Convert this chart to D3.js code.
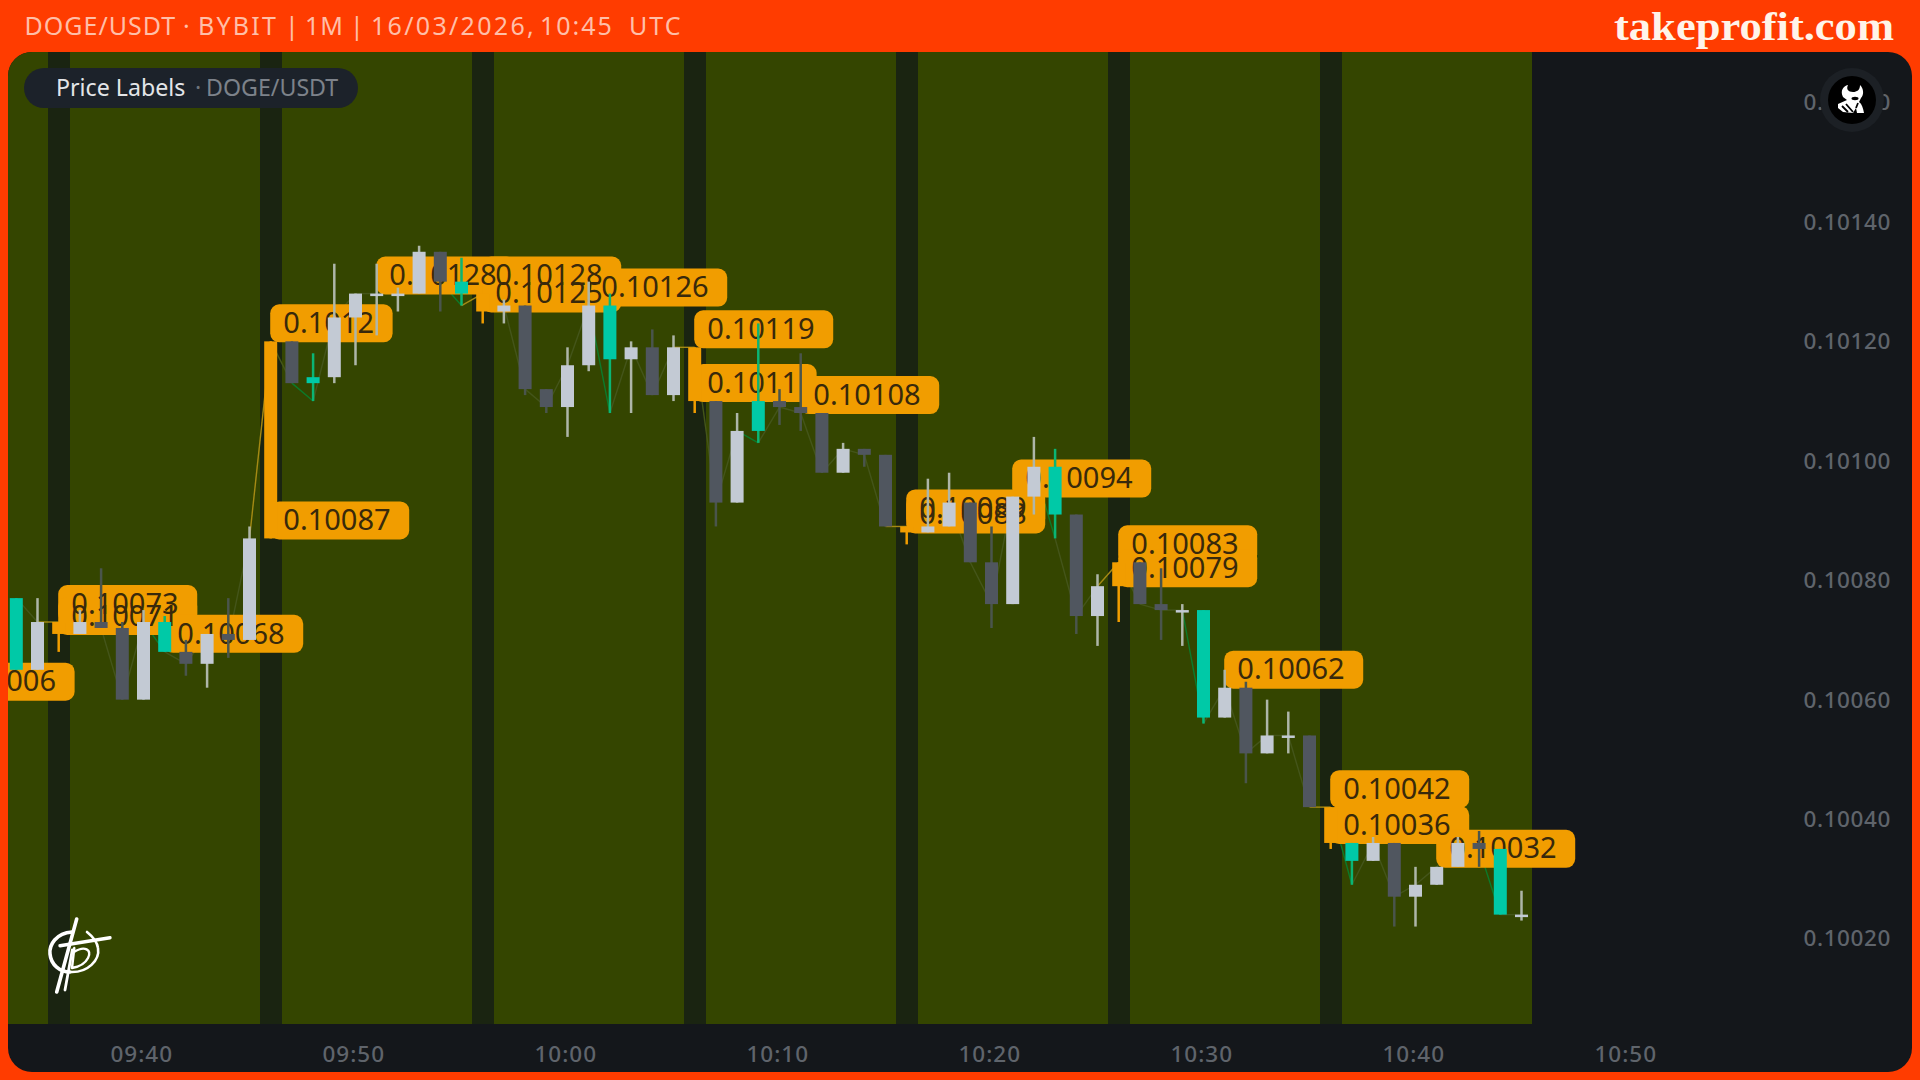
<!DOCTYPE html>
<html><head><meta charset="utf-8"><style>
html,body{margin:0;padding:0;background:#ff3c00;overflow:hidden}
svg{display:block}
</style><script src="https://cdn.jsdelivr.net/npm/d3@7"></script></head><body><svg id="c" width="1920" height="1080"></svg><script>
const titleParts=["DOGE/USDT","·","BYBIT","|","1M","|","16/03/2026,","10:45","UTC"];
const brand="takeprofit.com";
const seriesName="Price Labels";
const seriesSymbol="DOGE/USDT";
const priceTicks=[0.1002,0.1004,0.1006,0.1008,0.1010,0.1012,0.1014,0.1016];
const candleStart="2026-03-16T09:34:00Z";
const candleKinds="t w o w d d w t d w d w o d t w w w w w d t o w d d w w t w d w o d w t d d d w d d o w w d d w w t d w o d d w t w d w w d o t w d w w w d t w".split(" ");
const opens=[0.10077,0.10065,0.10071,0.10071,0.10073,0.10072,0.10060,0.10073,0.10068,0.10066,0.10071,0.10070,0.10087,0.10120,0.10114,0.10114,0.10124,0.10128,0.10128,0.10128,0.10135,0.10130,0.10125,0.10125,0.10126,0.10112,0.10109,0.10116,0.10126,0.10117,0.10119,0.10111,0.10110,0.10110,0.10093,0.10110,0.10110,0.10109,0.10108,0.10098,0.10102,0.10101,0.10088,0.10088,0.10089,0.10093,0.10083,0.10076,0.10094,0.10099,0.10091,0.10074,0.10079,0.10083,0.10076,0.10075,0.10075,0.10057,0.10062,0.10051,0.10054,0.10054,0.10036,0.10036,0.10033,0.10036,0.10027,0.10029,0.10032,0.10036,0.10035,0.10024];
const closes=[0.10065,0.10073,0.10073,0.10073,0.10072,0.10060,0.10073,0.10068,0.10066,0.10071,0.10070,0.10087,0.10120,0.10113,0.10113,0.10124,0.10128,0.10128,0.10128,0.10135,0.10130,0.10128,0.10128,0.10126,0.10112,0.10109,0.10116,0.10126,0.10117,0.10119,0.10111,0.10119,0.10119,0.10093,0.10105,0.10105,0.10109,0.10108,0.10098,0.10102,0.10101,0.10089,0.10089,0.10089,0.10093,0.10083,0.10076,0.10094,0.10099,0.10091,0.10074,0.10079,0.10083,0.10076,0.10075,0.10075,0.10057,0.10062,0.10051,0.10054,0.10054,0.10042,0.10042,0.10033,0.10036,0.10027,0.10029,0.10032,0.10036,0.10035,0.10024,0.10024];
const highs=[0.10077,0.10077,0.10073,0.10075,0.10082,0.10073,0.10075,0.10074,0.10070,0.10071,0.10077,0.10089,0.10120,0.10120,0.10118,0.10133,0.10128,0.10133,0.10129,0.10136,0.10135,0.10134,0.10128,0.10127,0.10126,0.10112,0.10119,0.10130,0.10128,0.10120,0.10122,0.10121,0.10119,0.10110,0.10108,0.10123,0.10112,0.10118,0.10108,0.10103,0.10102,0.10101,0.10089,0.10097,0.10098,0.10093,0.10089,0.10094,0.10104,0.10102,0.10091,0.10081,0.10083,0.10083,0.10082,0.10076,0.10075,0.10065,0.10063,0.10060,0.10058,0.10054,0.10042,0.10036,0.10037,0.10036,0.10032,0.10032,0.10037,0.10038,0.10035,0.10028];
const lows=[0.10065,0.10065,0.10068,0.10071,0.10072,0.10060,0.10060,0.10068,0.10064,0.10062,0.10067,0.10070,0.10087,0.10113,0.10110,0.10113,0.10116,0.10121,0.10125,0.10128,0.10125,0.10126,0.10123,0.10123,0.10111,0.10108,0.10104,0.10115,0.10108,0.10108,0.10111,0.10110,0.10108,0.10089,0.10093,0.10103,0.10106,0.10105,0.10098,0.10098,0.10099,0.10089,0.10086,0.10088,0.10089,0.10083,0.10072,0.10076,0.10091,0.10087,0.10071,0.10069,0.10073,0.10076,0.10070,0.10069,0.10056,0.10057,0.10046,0.10051,0.10051,0.10042,0.10035,0.10029,0.10033,0.10022,0.10022,0.10029,0.10032,0.10032,0.10024,0.10023];
const lineValues=[0.10077,0.10073,0.10073,0.10073,0.10072,0.10060,0.10073,0.10068,0.10066,0.10071,0.10070,0.10087,0.10120,0.10113,0.10110,0.10124,0.10128,0.10128,0.10128,0.10135,0.10130,0.10126,0.10128,0.10126,0.10112,0.10109,0.10116,0.10126,0.10108,0.10119,0.10111,0.10119,0.10119,0.10093,0.10105,0.10103,0.10109,0.10108,0.10098,0.10102,0.10101,0.10089,0.10089,0.10089,0.10093,0.10083,0.10076,0.10094,0.10099,0.10087,0.10074,0.10079,0.10083,0.10076,0.10075,0.10075,0.10056,0.10062,0.10051,0.10054,0.10054,0.10042,0.10042,0.10029,0.10036,0.10027,0.10029,0.10032,0.10036,0.10035,0.10024,0.10024];
const labelTimes=["09:31","09:36","09:36","09:41","09:46","09:46","09:51","09:56","09:56","10:01","10:06","10:06","10:11","10:16","10:16","10:21","10:26","10:26","10:31","10:36","10:36","10:41"];
const labelPrices=[0.1006,0.10073,0.10071,0.10068,0.10087,0.1012,0.10128,0.10128,0.10125,0.10126,0.10119,0.1011,0.10108,0.10089,0.10088,0.10094,0.10083,0.10079,0.10062,0.10042,0.10036,0.10032];

const F='"Noto Sans",sans-serif';
const C={bg:"#ff3c00",panel:"#14171b",green:"#344500",stripe:"#1a2411",w:"#c3cad4",d:"#50565f",t:"#00c9a7",o:"#f19d00",
 wickW:"#aeb6a9",wickD:"#4a554c",wickT:"#0ab574",axis:"#5f646b",label:"#f19d00",labelText:"#38290b"};
const parseT=s=>new Date(`2026-03-16T${s}:00Z`);
const t0=new Date(candleStart);
const times=opens.map((_,i)=>d3.utcMinute.offset(t0,i));
const x=d3.scaleUtc().domain([t0,parseT("10:50")]).range([16.3,1627.5]);
const y=d3.scaleLinear().domain([0.1002,0.1016]).range([938.5,102.5]);
const slot=x(d3.utcMinute.offset(t0,1))-x(t0);
const svg=d3.select("#c");
svg.append("rect").attr("width",1920).attr("height",1080).attr("fill",C.bg);
const defs=svg.append("defs");
defs.append("clipPath").attr("id","pc").append("rect").attr("x",8).attr("y",52).attr("width",1904).attr("height",1020).attr("rx",24);
defs.append("clipPath").attr("id","plot").append("rect").attr("x",8).attr("y",52).attr("width",1904).attr("height",972);
const panel=svg.append("g").attr("clip-path","url(#pc)");
panel.append("rect").attr("x",8).attr("y",52).attr("width",1904).attr("height",1020).attr("fill",C.panel);
const plot=panel.append("g").attr("clip-path","url(#plot)");
// session background with one dark slot per ten-minute candle
const lastX=x(times[times.length-1]);
plot.append("rect").attr("x",0).attr("width",Math.round(lastX+slot/2)).attr("y",52).attr("height",972).attr("fill",C.green);
plot.append("g").selectAll("rect").data(times.filter((d,i)=>candleKinds[i]==="o")).join("rect")
 .attr("x",d=>Math.round(x(d)-10.7)).attr("width",22)
 .attr("y",52).attr("height",972).attr("fill",C.stripe);
// thin line
const lineCol=k=>k==="t"?"#0c7a2a":k==="o"?"#a58a14":"#44551a";
plot.append("g").attr("fill","none").attr("stroke-width",1.4).selectAll("line").data(lineValues.slice(1)).join("line")
 .attr("x1",(d,i)=>x(times[i])).attr("y1",(d,i)=>y(lineValues[i]))
 .attr("x2",(d,i)=>x(times[i+1])).attr("y2",d=>y(d))
 .attr("stroke",(d,i)=>lineCol(candleKinds[i+1]));
// labels
const labels=labelPrices.map((p,i)=>({p,t:parseT(labelTimes[i]),s:String(+p.toFixed(5))}));
const lr=plot.append("g"), lt=plot.append("g");
const texts=lt.selectAll("text").data(labels).join("text").text(d=>d.s)
 .attr("x",d=>x(d.t)+12.6).attr("y",d=>y(d.p)-18.5)
 .attr("dy","0.35em").attr("font-family",F).attr("font-size",29).attr("fill",C.labelText);
texts.each(function(d){d.w=this.getComputedTextLength();});
lr.selectAll("rect").data(labels).join("rect")
 .attr("x",d=>x(d.t)-0.5).attr("y",d=>y(d.p)+1-38).attr("height",38)
 .attr("width",d=>d.w+13.1+18.6).attr("rx",9).attr("fill",C.label);
// candles
const cg=plot.append("g");
const idx=d3.range(opens.length);
const wickCol={w:C.wickW,d:C.wickD,t:C.wickT,o:C.o};
cg.selectAll("line.w").data(idx).join("line").attr("class","w")
 .attr("x1",i=>x(times[i])).attr("x2",i=>x(times[i]))
 .attr("y1",i=>y(highs[i])).attr("y2",i=>y(lows[i]))
 .attr("stroke",i=>wickCol[candleKinds[i]]).attr("stroke-width",2.5);
cg.selectAll("rect.b").data(idx).join("rect").attr("class","b")
 .attr("x",i=>x(times[i])-6.5).attr("width",13)
 .attr("y",i=>y(Math.max(opens[i],closes[i])))
 .attr("height",i=>Math.max(2.5,Math.abs(y(opens[i])-y(closes[i]))))
 .attr("fill",i=>C[candleKinds[i]]);
// axes
const xa=panel.append("g").attr("transform","translate(-2.2,1054)")
 .call(d3.axisBottom(x).ticks(d3.utcMinute.every(10)).tickFormat(d3.utcFormat("%H:%M")).tickSize(0).tickPadding(0));
xa.select(".domain").remove();
xa.selectAll("text").attr("font-family",F).attr("font-size",22.5).attr("font-weight",500).attr("letter-spacing",1).attr("fill",C.axis).attr("dy","0.35em").attr("y",0);
const ya=panel.append("g").attr("transform","translate(1891,-0.5)")
 .call(d3.axisLeft(y).tickValues(priceTicks).tickFormat(d3.format(".5f")).tickSize(0).tickPadding(0));
ya.select(".domain").remove();
ya.selectAll("text").attr("font-family",F).attr("font-size",22.5).attr("font-weight",500).attr("letter-spacing",0.6).attr("fill",C.axis).attr("dy","0.35em").attr("x",0);
// header: words placed where the reference has them
const titleX=[24.5,183,198,285,305,350,371,540,629];
const titleSp=[1,0,2.2,0,1,0,2.3,2,2];
svg.append("text").attr("y",26).attr("dy","0.35em").attr("font-family",F).attr("font-size",25).attr("fill","#ffbfa8")
 .selectAll("tspan").data(titleParts).join("tspan").attr("x",(d,i)=>titleX[i]).attr("letter-spacing",(d,i)=>titleSp[i]).text(d=>d);
svg.append("text").text(brand).attr("x",1894).attr("y",40).attr("text-anchor","end").attr("font-family",'"Liberation Serif",serif').attr("font-weight",700).attr("font-size",39).attr("fill","#fff4ea").attr("textLength",280).attr("lengthAdjust","spacingAndGlyphs");
// pill
svg.append("rect").attr("x",24).attr("y",68).attr("width",334).attr("height",40).attr("rx",20).attr("fill","#1c222a");
const pill=svg.append("text").attr("y",88).attr("dy","0.35em").attr("font-family",F).attr("font-size",23.2);
pill.append("tspan").attr("x",56).attr("fill","#e3e5e8").text(seriesName);
pill.append("tspan").attr("x",195).attr("fill","#6e747c").text("·");
pill.append("tspan").attr("x",206).attr("fill","#7d828a").text(seriesSymbol);
// bull badge
const b=svg.append("g").attr("transform","translate(1852,100)");
b.append("circle").attr("r",32).attr("fill","#1c2025");
b.append("circle").attr("r",24).attr("fill","#000");
b.append("path").attr("fill","#fff").attr("d","M-9,-3C-12,-9 -9,-14 -4,-15C-6,-11 -4,-8 1,-8C5,-8 8,-10 8,-15C12,-11 12,-5 9,-2L7,2C10,4 11,8 12,13L5,13L4,8L1,13L-9,12L-14,8L-14,4L-5,0Z");
b.append("ellipse").attr("cx",3).attr("cy",-1.5).attr("rx",3.5).attr("ry",1.7).attr("fill","#000");
b.append("path").attr("fill","none").attr("stroke","#000").attr("stroke-width",1.8).attr("d","M-10,6L-4,12M-6,4L1,12M4,8L6,3");
// logo
const l=svg.append("g").attr("fill","none").attr("stroke","#fff").attr("stroke-linecap","round");
l.append("path").attr("stroke-width",3.6).attr("d","M72,932C56,933 49,945 50,954C51,965 60,972 70,972");
l.append("path").attr("stroke-width",2.6).attr("d","M70,972C88,973 100,960 98,948C97,941 92,936 87,932");
l.append("path").attr("stroke-width",3.4).attr("d","M60,945.7L110,937.7");
l.append("path").attr("stroke-width",3.6).attr("d","M76.7,919L56.7,992");
l.append("path").attr("stroke-width",2.8).attr("d","M72.3,950L65,990");
l.append("path").attr("stroke-width",2.4).attr("d","M74.3,948L72,968M74,952C85,945 92,950 88,958C85,964 78,967 72,968");
</script></body></html>
